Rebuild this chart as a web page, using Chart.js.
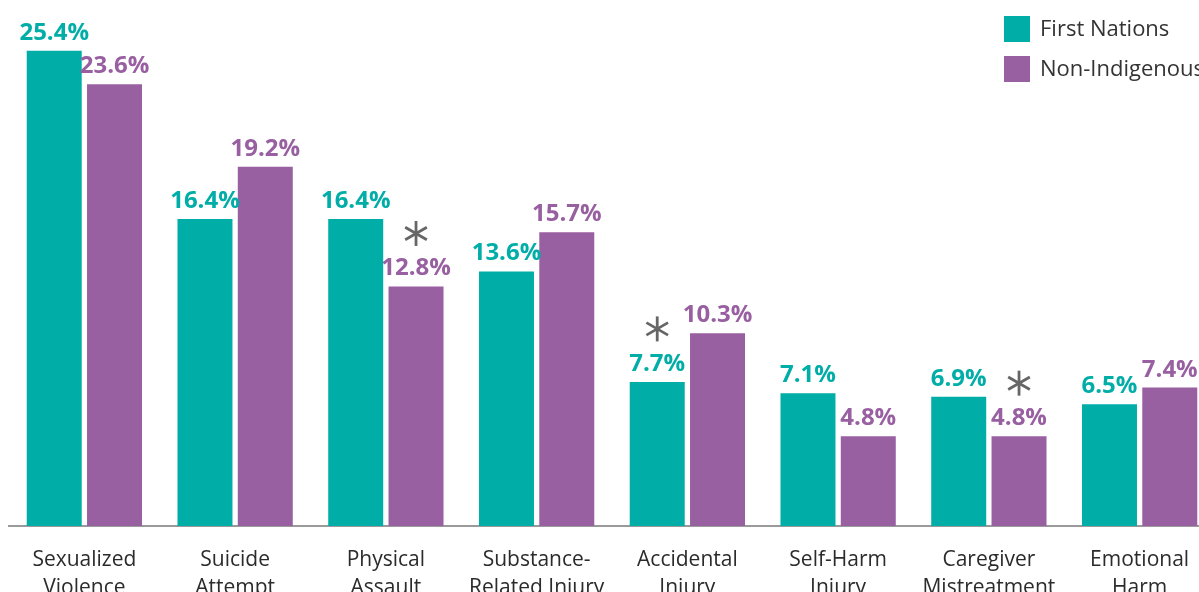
<!DOCTYPE html>
<html>
<head>
<meta charset="utf-8">
<script src="https://cdn.jsdelivr.net/npm/chart.js@4.4.1/dist/chart.umd.min.js"></script>
<style>
  html, body { margin: 0; padding: 0; background: #fff; overflow: hidden; }
  #harm-chart { display: block; }
</style>
</head>
<body>
<canvas id="harm-chart" width="1220" height="610"></canvas>
<script>
// カテゴリ（2行表示）
const categories = [
    ['Sexualized', 'Violence'],
    ['Suicide', 'Attempt'],
    ['Physical', 'Assault'],
    ['Substance-', 'Related Injury'],
    ['Accidental', 'Injury'],
    ['Self-Harm', 'Injury'],
    ['Caregiver', 'Mistreatment'],
    ['Emotional', 'Harm']
];

// 割合（%）
const firstNations = [25.4, 16.4, 16.4, 13.6, 7.7, 7.1, 6.9, 6.5];
const nonIndigenous = [23.6, 19.2, 12.8, 15.7, 10.3, 4.8, 4.8, 7.4];

// アスタリスク付きの棒
const firstNationsStar = [false, false, false, false, true, false, false, false];
const nonIndigenousStar = [false, false, true, false, false, false, true, false];

const seriesNames = ['First Nations', 'Non-Indigenous'];
const seriesColors = ['#00ada7', '#985fa1'];

const fontFamily = '"Open Sans", "DejaVu Sans", sans-serif';

// アスタリスクを描く
function drawStar(ctx, x, y, r) {
    ctx.save();
    ctx.strokeStyle = '#666666';
    ctx.lineWidth = 2.8;
    ctx.lineCap = 'butt';
    for (let i = 0; i < 3; i++) {
        const a = Math.PI / 2 + i * Math.PI / 3;
        ctx.beginPath();
        ctx.moveTo(x + Math.cos(a) * r, y + Math.sin(a) * r);
        ctx.lineTo(x - Math.cos(a) * r, y - Math.sin(a) * r);
        ctx.stroke();
    }
    ctx.restore();
}

// 値ラベルとアスタリスク
const valueLabels = {
    id: 'valueLabels',
    afterDatasetsDraw(chart) {
        const ctx = chart.ctx;
        const stars = [firstNationsStar, nonIndigenousStar];
        ctx.save();
        ctx.font = 'bold 24px ' + fontFamily;
        ctx.textAlign = 'center';
        ctx.textBaseline = 'alphabetic';
        chart.data.datasets.forEach((ds, di) => {
            const meta = chart.getDatasetMeta(di);
            meta.data.forEach((bar, i) => {
                ctx.fillStyle = seriesColors[di];
                ctx.fillText(ds.data[i].toFixed(1) + '%', bar.x, bar.y - 11);
                if (stars[di][i]) {
                    drawStar(ctx, bar.x, bar.y - 53, 12.5);
                }
            });
        });
        ctx.restore();
    }
};

// 凡例（右上）
const cornerLegend = {
    id: 'cornerLegend',
    afterDraw(chart) {
        const ctx = chart.ctx;
        ctx.save();
        ctx.font = '22px ' + fontFamily;
        ctx.textAlign = 'left';
        ctx.textBaseline = 'middle';
        seriesNames.forEach((name, i) => {
            const y = 16 + i * 40;
            ctx.fillStyle = seriesColors[i];
            ctx.fillRect(1004, y, 26, 26);
            ctx.fillStyle = '#333333';
            ctx.fillText(name, 1040, y + 14);
        });
        ctx.restore();
    }
};

const ctx = document.getElementById('harm-chart').getContext('2d');
const harmChart = new Chart(ctx, {
    type: 'bar',
    data: {
        labels: categories,
        datasets: seriesNames.map((name, i) => ({
            label: name,
            data: i === 0 ? firstNations : nonIndigenous,
            backgroundColor: seriesColors[i],
            borderWidth: 0,
            categoryPercentage: 0.8,
            barPercentage: 0.912
        }))
    },
    options: {
        responsive: false,
        animation: false,
        layout: { padding: { left: 9, right: 5, top: 2, bottom: 0 } },
        plugins: {
            legend: { display: false },
            tooltip: { enabled: false }
        },
        scales: {
            x: {
                grid: { display: false, drawTicks: false },
                border: { display: true, color: '#9a9a9a', width: 2 },
                ticks: {
                    color: '#2b2b2b',
                    padding: 20,
                    maxRotation: 0,
                    autoSkip: false,
                    font: { family: fontFamily, size: 21, lineHeight: 1.33 }
                },
                afterFit(scale) { scale.height = 84; }
            },
            y: {
                display: false,
                min: 0,
                max: 28
            }
        }
    },
    plugins: [valueLabels, cornerLegend]
});
</script>
</body>
</html>
